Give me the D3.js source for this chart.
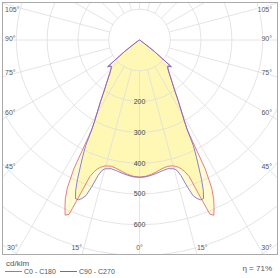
<!DOCTYPE html>
<html>
<head>
<meta charset="utf-8">
<style>
    body { margin: 0; background: #fff; }
    svg text { font-family: "Liberation Sans", Arial, sans-serif; fill: #555; }
</style>
</head>
<body>
<svg width="280" height="278"></svg>

<script src="https://d3js.org/d3.v7.min.js"></script>
<script>
    // luminous intensity in cd/klm, read per gamma angle (degrees from nadir)
    let gammas = [0, 2.5, 5, 7.5, 10, 12.5, 15, 16, 17, 18, 19, 20, 21, 22, 23, 24, 25, 26, 27, 28, 29, 30,
        32.5, 35, 37.5, 40, 42.5, 45, 47.5, 50, 52.5, 55, 60, 90, 120, 150, 180];
    let c0c180 = [445, 443, 438, 431, 424, 420, 423, 427, 432, 440, 452, 472, 535, 610, 618, 595, 570, 535, 470, 331, 300, 278,
        234, 199, 175, 156, 141, 130, 125, 135, 60, 15, 3, 0, 0, 0, 0];
    let c90c270 = [446, 445, 441, 436, 431, 428, 433, 440, 460, 500, 535, 548, 556, 555, 530, 495, 455, 420, 385, 331, 300, 278,
        234, 199, 175, 156, 141, 130, 125, 135, 60, 15, 3, 0, 0, 0, 0];

    let rings = [100, 200, 300, 400, 500, 600, 700, 800, 900];
    let ringLabels = [200, 300, 400, 500, 600];
    let sideAngles = [105, 90, 75, 60, 45];
    let bottomAngles = [30, 15, 0];
    let seriesNames = ["C0 - C180", "C90 - C270"];
    let seriesColors = ["#e0606e", "#6f62d8"];
    let unit = "cd/klm";
    let eta = "η = 71%";

    let svg = d3.select("svg");
    let cx = 139.5, cy = 40;
    let box = { x: 2.5, y: 2.5, w: 275, h: 252 };

    let r = d3.scaleLinear().domain([0, 100]).range([0, 30.8]);
    let rad = d => d * Math.PI / 180;

    svg.append("clipPath").attr("id", "frame")
        .append("rect").attr("x", box.x).attr("y", box.y).attr("width", box.w).attr("height", box.h);

    let plot = svg.append("g").attr("clip-path", "url(#frame)");
    let g = plot.append("g").attr("transform", `translate(${cx},${cy})`);

    // build closed outline: right half then left half (symmetric)
    function outline(vals) {
        let pts = [];
        gammas.forEach((gm, i) => pts.push({ a: Math.PI - rad(gm), v: vals[i] }));
        for (let i = gammas.length - 1; i >= 0; i--) pts.push({ a: Math.PI + rad(gammas[i]), v: vals[i] });
        return pts;
    }

    let line = d3.lineRadial()
        .angle(d => d.a)
        .radius(d => r(d.v))
        .curve(d3.curveLinearClosed);

    let data = [c0c180, c90c270];

    // fills
    g.selectAll(".area")
        .data(data)
        .join("path")
        .attr("d", d => line(outline(d)))
        .style("fill", "rgb(255,245,130)")
        .style("fill-opacity", 0.36)
        .style("stroke", "none");

    // grid circles
    g.selectAll(".ring")
        .data(rings)
        .join("circle")
        .attr("r", d => r(d))
        .style("fill", "none")
        .style("stroke", "#ddd")
        .style("stroke-width", 0.8);

    // radial spokes every 15 deg
    g.selectAll(".spoke")
        .data(d3.range(0, 360, 15))
        .join("line")
        .attr("x1", d => r(100) * Math.sin(rad(d)))
        .attr("y1", d => r(100) * Math.cos(rad(d)))
        .attr("x2", d => r(1000) * Math.sin(rad(d)))
        .attr("y2", d => r(1000) * Math.cos(rad(d)))
        .style("stroke", "#ddd")
        .style("stroke-width", 0.8);

    // curves
    g.selectAll(".curve")
        .data(data)
        .join("path")
        .attr("d", d => line(outline(d)))
        .style("fill", "none")
        .style("stroke", (d, i) => seriesColors[i])
        .style("stroke-width", 0.9)
        .style("stroke-opacity", 0.9)
        .style("stroke-linejoin", "round");

    // ring values
    g.selectAll(".rlab")
        .data(ringLabels)
        .join("text")
        .attr("x", 0)
        .attr("y", d => r(d))
        .attr("dy", "0.35em")
        .attr("text-anchor", "middle")
        .style("font-size", "7px")
        .style("fill", "#444")
        .text(d => d);

    // angle labels on the sides
    let inset = 128.5;
    sideAngles.forEach(a => {
        let y = cy + inset / Math.tan(rad(a)) - 1.5;
        y = Math.max(10, y);
        [-1, 1].forEach(s => {
            svg.append("text")
                .attr("x", s < 0 ? 5 : 272)
                .attr("y", y)
                .attr("dy", "0.35em")
                .attr("text-anchor", s < 0 ? "start" : "end")
                .style("font-size", "7px")
                .style("stroke", "#fff")
                .style("stroke-width", 2)
                .style("paint-order", "stroke")
                .text(a + "°");
        });
    });

    // angle labels along the bottom
    let by = 248;
    bottomAngles.forEach(a => {
        let off = (by - cy) * Math.tan(rad(a)) + (a > 0 ? 7 : 0);
        let xs = a > 0 ? [cx - off, cx + off] : [cx];
        xs.forEach(x => {
            svg.append("text")
                .attr("x", x)
                .attr("y", by)
                .attr("dy", "0.35em")
                .attr("text-anchor", "middle")
                .style("font-size", "7px")
                .style("stroke", "#fff")
                .style("stroke-width", 2)
                .style("paint-order", "stroke")
                .text(a + "°");
        });
    });

    // frame
    svg.append("rect")
        .attr("x", box.x).attr("y", box.y).attr("width", box.w).attr("height", box.h)
        .style("fill", "none")
        .style("stroke", "#aaa")
        .style("stroke-width", 1);

    // legend
    svg.append("text")
        .attr("x", 6).attr("y", 263).attr("dy", "0.35em")
        .style("font-size", "8px")
        .text(unit);

    let legX = [5, 60];
    seriesNames.forEach((name, i) => {
        svg.append("line")
            .attr("x1", legX[i]).attr("x2", legX[i] + 17)
            .attr("y1", 271.5).attr("y2", 271.5)
            .style("stroke", seriesColors[i])
            .style("stroke-width", 1);
        svg.append("text")
            .attr("x", legX[i] + 19).attr("y", 271.5).attr("dy", "0.35em")
            .style("font-size", "7px")
            .text(name);
    });

    svg.append("text")
        .attr("x", 272).attr("y", 268).attr("dy", "0.35em")
        .attr("text-anchor", "end")
        .style("font-size", "8px")
        .text(eta);
</script>
</body>
</html>
